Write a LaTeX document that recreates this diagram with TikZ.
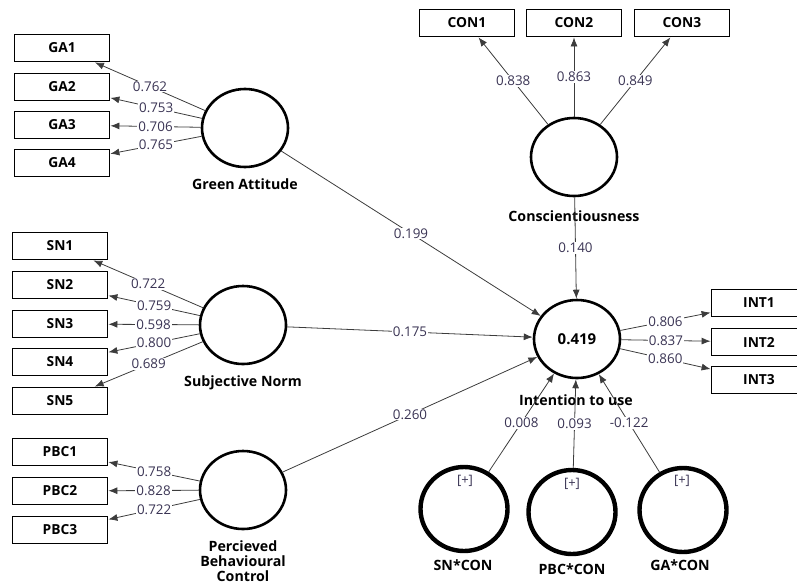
\documentclass[tikz,border=0pt]{standalone}
\usepackage{fontspec}
\setmainfont{Open Sans}
\usetikzlibrary{arrows.meta,shapes}
\definecolor{lnk}{RGB}{60,60,60}
\definecolor{val}{RGB}{58,52,84}
\tikzset{
    indbox/.style = {draw, rectangle, line width=1.8pt,
        minimum height=27pt,
        minimum width=95pt, inner sep=0,
        font=\bfseries\fontsize{13.8}{15}\selectfont},
    lv/.style = {draw, ellipse, line width=2.6pt, inner sep=0,
        minimum width=86pt, minimum height=78pt},
    modlv/.style = {lv, line width=4.4pt, minimum width=87pt, minimum height=84pt},
    lvname/.style = {font=\bfseries\fontsize{14.2}{15}\selectfont, align=center},
    plus/.style = {text=val, font=\fontsize{13}{15}\selectfont},
    arr/.style = {draw=lnk, line width=0.8pt, -{Latex[length=9pt,width=7pt]}},
    coef/.style = {fill=white, text=val, inner sep=1pt, font=\fontsize{13.4}{15}\selectfont}
}
\begin{document}
\begin{tikzpicture}[x=1pt,y=-1pt]
    \useasboundingbox (0,0) rectangle (797,587);
    % indicators
    \node[indbox] (ga1) at (62,48) {GA1};
    \node[indbox] (ga2) at (62,87) {GA2};
    \node[indbox] (ga3) at (62,125) {GA3};
    \node[indbox] (ga4) at (62,163) {GA4};
    \node[indbox] (sn1) at (60,246) {SN1};
    \node[indbox] (sn2) at (60,285) {SN2};
    \node[indbox] (sn3) at (60,324) {SN3};
    \node[indbox] (sn4) at (60,362) {SN4};
    \node[indbox] (sn5) at (60,401) {SN5};
    \node[indbox] (pbc1) at (60,452) {PBC1};
    \node[indbox] (pbc2) at (60,491) {PBC2};
    \node[indbox] (pbc3) at (60,530) {PBC3};
    \node[indbox] (con1) at (467,23) {CON1};
    \node[indbox] (con2) at (574,23) {CON2};
    \node[indbox] (con3) at (682,23) {CON3};
    \node[indbox] (int1) at (759,303) {INT1};
    \node[indbox] (int2) at (759,342) {INT2};
    \node[indbox] (int3) at (759,380) {INT3};
    % constructs
    \node[lv] (ga) at (245,128) {};
    \node[lv] (sn) at (243,325) {};
    \node[lv] (pbc) at (243,490) {};
    \node[lv] (con) at (574,157) {};
    \node[lv,font=\bfseries\fontsize{15}{17}\selectfont] (int) at (577,339) {0.419};
    \node[modlv] (sncon) at (464,509) {};
    \node[modlv] (pbccon) at (572,512) {};
    \node[modlv] (gacon) at (683,510) {};
    \node[lvname] (ga-t) at (245,184) {Green Attitude};
    \node[lvname] (sn-t) at (243,383) {Subjective Norm};
    \node[lvname] (pbc-t) at (243,561) {Percieved\\Behavioural\\Control};
    \node[lvname] (con-t) at (574,216) {Conscientiousness};
    \node[lvname] (int-t) at (576,400) {Intention to use};
    \node[lvname] (sncon-t) at (463,565) {SN*CON};
    \node[lvname] (pbccon-t) at (572,569) {PBC*CON};
    \node[lvname] (gacon-t) at (680,565) {GA*CON};
    \node[plus] (sncon-p) at (465,481) {[+]};
    \node[plus] (pbccon-p) at (572,484) {[+]};
    \node[plus] (gacon-p) at (682,481) {[+]};
    % loadings
    \draw[arr] (ga) -- node[coef] {0.762} (ga1);
    \draw[arr] (ga) -- node[coef] {0.753} (ga2);
    \draw[arr] (ga) -- node[coef] {0.706} (ga3);
    \draw[arr] (ga) -- node[coef] {0.765} (ga4);
    \draw[arr] (sn) -- node[coef] {0.722} (sn1);
    \draw[arr] (sn) -- node[coef] {0.759} (sn2);
    \draw[arr] (sn) -- node[coef] {0.598} (sn3);
    \draw[arr] (sn) -- node[coef] {0.800} (sn4);
    \draw[arr] (sn) -- node[coef] {0.689} (sn5);
    \draw[arr] (pbc) -- node[coef] {0.758} (pbc1);
    \draw[arr] (pbc) -- node[coef] {0.828} (pbc2);
    \draw[arr] (pbc) -- node[coef] {0.722} (pbc3);
    \draw[arr] (con) -- node[coef] {0.838} (con1);
    \draw[arr] (con) -- node[coef] {0.863} (con2);
    \draw[arr] (con) -- node[coef] {0.849} (con3);
    \draw[arr] (int) -- node[coef] {0.806} (int1);
    \draw[arr] (int) -- node[coef] {0.837} (int2);
    \draw[arr] (int) -- node[coef] {0.860} (int3);
    % paths
    \draw[arr] (ga) -- node[coef] {0.199} (int);
    \draw[arr] (sn) -- node[coef] {0.175} (int);
    \draw[arr] (pbc) -- node[coef] {0.260} (int);
    \draw[arr] (con) -- node[coef] {0.140} (int);
    \draw[arr] (sncon) -- node[coef] {0.008} (int);
    \draw[arr] (pbccon) -- node[coef] {0.093} (int);
    \draw[arr] (gacon) -- node[coef] {-0.122} (int);
\end{tikzpicture}
\end{document}
